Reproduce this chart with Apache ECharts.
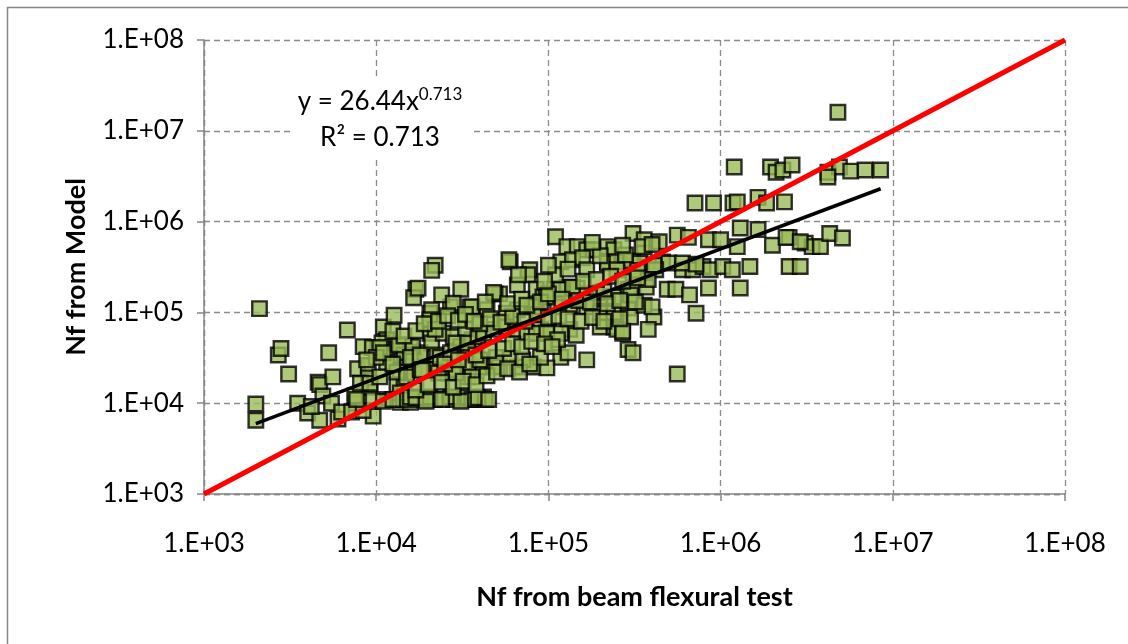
<!DOCTYPE html>
<html><head><meta charset="utf-8">
<script src="https://cdn.jsdelivr.net/npm/echarts@6/dist/echarts.min.js"></script>
<style>html,body{margin:0;padding:0;background:#fff}#c{width:1128px;height:644px}</style>
</head><body><div id="c"></div>
<script>
// Nf from beam flexural test (x) and Nf from Model (y)
const nfBeam = [
  2.1e3,2.7e3,2.8e3,3.1e3,2.0e3,2.0e3,6.8e3,5.3e3,3.5e3,4.0e3,4.7e3,4.6e3,4.7e3,5.6e3,4.9e3,5.5e3,6.0e3,7.6e3,7.5e3,9.6e3,
  8.4e3,9.5e3,7.8e3,9.0e3,9.2e3,9.0e3,1.1e4,1.27e4,1.7e4,1.65e4,4.2e3,6.3e3,7.2e3,8.4e3,8.1e3,9.2e3,
  1.15e4,1.23e4,1.08e4,1.38e4,1.58e4,1.45e4,1.66e4,1.38e4,1.5e4,1.66e4,1.15e4,1.32e4,1.45e4,1.2e4,1.38e4,1.58e4,1.8e4,1.38e4,
  1.05e4,1.35e4,1.63e4,1.8e4,2.05e4,2.1e4,2.45e4,2.25e4,2.8e4,3.1e4,3.4e4,3.6e4,3.3e4,2.7e4,2.05e4,3.5e4,
  7.7e3,9.6e3,1.44e4,2.2e4,2.8e4,3.5e4,1.05e4,1.32e4,1.5e4,1.8e4,2.2e4,2.6e4,2.9e4,3.4e4,3.9e4,
  2.2e4,2.1e4,1.75e4,2.4e4,3.1e4,2.8e4,3.6e4,4.4e4,5.2e4,4.9e4,2.1e4,2.05e4,2.2e4,1.63e4,1.58e4,1.8e4,2.35e4,2.7e4,2.9e4,3.4e4,
  3.9e4,4.2e4,4.8e4,3.4e4,4.2e4,3.6e4,2.9e4,2.3e4,1.85e4,1.58e4,2.05e4,2.7e4,3.4e4,4.2e4,3.6e4,4.3e4,
  6.0e4,7.8e4,7.6e4,6.6e4,6.7e4,8.5e4,8.2e4,6.6e4,5.7e4,9.3e4,1.1e5,1.28e5,1.47e5,1.67e5,1.82e5,2.2e5,2.4e5,1.18e5,1.38e5,1.58e5,
  1.67e5,2.2e5,1.08e5,1.28e5,1.47e5,1.67e5,2.0e5,2.4e5,1.13e5,1.33e5,1.67e5,2.0e5,2.4e5,2.0e5,2.4e5,1.33e5,1.18e5,1.67e5,5.6e5,5.9e4,
  4.8e4,8.4e4,9.7e4,1.18e5,1.38e5,1.9e5,2.9e5,9.0e4,9.7e4,1.45e5,2.5e5,2.7e5,1.18e5,1.3e5,2.9e5,4.8e4,5.2e4,6.6e4,8.2e4,9.8e4,
  4.0e4,5.0e4,6.0e4,7.1e4,9.0e4,5.7e4,6.6e4,7.5e4,8.5e4,9.8e4,1.13e5,
  3.1e5,3.6e5,4.4e5,5.6e5,6.5e5,8.5e5,1.0e6,1.3e6,1.65e6,1.25e6,2.0e6,2.5e6,3.6e5,3.1e5,2.7e5,4.6e5,5.0e5,6.0e5,6.9e5,7.9e5,
  8.7e5,1.03e6,1.17e6,1.48e6,2.5e6,2.9e6,3.7e5,3.1e5,4.2e5,3.1e5,3.7e5,4.9e5,5.5e5,6.6e5,8.5e5,1.3e6,7.2e5,2.9e5,3.0e5,4.1e5,
  3.8e5,2.7e5,3.1e5,1.2e6,1.95e6,2.1e6,2.3e6,2.6e6,7.1e5,9.1e5,1.18e6,1.25e6,1.65e6,1.85e6,2.35e6,2.2e5,2.5e5,3.0e5,3.4e5,4.1e5,
  6.0e5,7.2e5,2.5e5,3.3e5,3.8e5,2.1e5,3.0e5,3.6e5,4.0e5,4.8e6,4.2e6,4.9e6,5.7e6,6.9e6,8.5e6,4.2e6,2.4e6,3.1e6,3.4e6,3.8e6,
  4.3e6,5.1e6,2.9e6,
  1.1e4,1.25e4,1.7e4,1.95e4,2.4e4,3.1e4,3.9e4,4.5e4,
  1.7e4,2.0e4,2.4e4,2.8e4,3.2e4,3.8e4,4.4e4,5.0e4,5.8e4,6.8e4,7.8e4,
  2.5e4,3.0e4,3.8e4,4.5e4,5.5e4,6.2e4,7.0e4,8.0e4,9.5e4,1.05e5,4.0e4,4.6e4,5.3e4,6.2e4,7.3e4,8.6e4,1.0e5,1.15e5,1.3e5,1.55e5,
  1.8e5,2.1e5,2.6e5,
  4.3e4,5.8e4,7.0e4,7.5e4,9.0e4,1.0e5,1.2e5,1.5e5,1.75e5,2.2e5,2.6e5,3.2e5,1.6e5,1.9e5,2.3e5,2.7e5,3.3e5,1.1e5,9.5e4,1.3e5,
  1.0e5,2.0e5,2.8e5,3.5e5,4.0e5,1.8e5,2.7e5,
  1.25e4,1.45e4,1.7e4,1.9e4,2.3e4,2.6e4,3.0e4,3.3e4,3.7e4,
  1.0e4,1.1e4,8.8e3,1.25e4
];
const nfModel = [
  1.1e5,3.4e4,4.0e4,2.1e4,9.8e3,6.5e3,6.4e4,3.6e4,1.0e4,7.8e3,6.5e3,1.7e4,1.6e4,1.95e4,1.2e4,1.0e4,6.7e3,1.0e4,1.2e4,7.2e3,
  4.2e4,4.1e4,2.4e4,2.6e4,1.5e4,1.9e4,6.9e4,9.3e4,1.8e5,1.45e5,9.2e3,8.0e3,8.0e3,8.3e3,1.66e4,1.66e4,
  5.0e4,3.9e4,4.6e4,4.2e4,4.2e4,3.4e4,3.2e4,2.3e4,2.5e4,2.1e4,2.8e4,1.6e4,1.5e4,1.1e4,1.02e4,1.02e4,1.1e4,1.3e4,
  4.1e4,4.4e4,3.1e4,3.6e4,5.9e4,4.6e4,5.9e4,3.4e4,5.4e4,4.2e4,3.6e4,5.0e4,6.5e4,1.15e5,9.8e4,1.15e5,
  1.1e4,1.1e4,1.1e4,1.1e4,1.1e4,1.1e4,1.95e4,2.2e4,1.95e4,2.35e4,2.35e4,2.15e4,2.35e4,1.95e4,2.5e4,
  3.3e5,2.9e5,1.85e5,1.56e5,1.8e5,1.26e5,1.15e5,1.07e5,1.6e5,1.6e5,1.07e5,8.3e4,6.5e4,4.2e4,3.2e4,3.4e4,3.2e4,3.6e4,4.6e4,4.6e4,
  5.4e4,5.9e4,6.5e4,2.75e4,2.5e4,1.95e4,2.15e4,2.15e4,2.3e4,1.17e4,1.17e4,1.17e4,1.17e4,1.17e4,1.1e4,1.1e4,
  3.6e5,2.95e5,2.6e5,2.0e5,2.6e5,1.8e5,1.15e5,1.07e5,9.8e4,1.48e5,6.8e5,5.3e5,5.3e5,4.9e5,4.9e5,5.3e5,4.9e5,3.6e5,3.8e5,4.0e5,
  2.95e5,3.6e5,1.8e5,1.9e5,1.85e5,1.6e5,1.48e5,1.48e5,1.15e5,1.15e5,1.15e5,9.8e4,9.8e4,6.9e4,6.9e4,6.5e4,5.9e4,3.0e4,2.1e4,3.8e5,
  1.66e5,1.15e5,1.48e5,1.8e5,1.9e5,1.66e5,1.8e5,6.5e4,5.9e4,5.6e4,6.5e4,5.9e4,3.2e4,3.6e4,3.9e4,2.6e4,2.5e4,2.5e4,2.5e4,2.45e4,
  3.0e4,3.2e4,3.2e4,3.0e4,3.2e4,6.9e4,6.5e4,5.9e4,5.9e4,5.9e4,5.0e4,
  7.4e5,6.3e5,6.0e5,7.1e5,6.7e5,6.3e5,6.3e5,8.5e5,8.2e5,5.3e5,5.5e5,6.7e5,4.5e5,3.6e5,3.2e5,3.6e5,3.5e5,2.95e5,2.95e5,3.2e5,
  2.95e5,3.2e5,2.95e5,3.2e5,3.2e5,3.2e5,2.9e5,2.7e5,2.95e5,1.8e5,1.9e5,1.8e5,1.8e5,1.56e5,1.86e5,1.86e5,9.8e4,1.12e5,8.9e4,8.9e4,
  6.5e4,6.2e4,3.6e4,4.0e6,4.0e6,3.5e6,3.7e6,4.2e6,1.6e6,1.6e6,1.6e6,1.65e6,1.85e6,1.6e6,1.65e6,3.5e5,3.6e5,3.7e5,3.5e5,3.3e5,
  3.5e5,3.4e5,2.95e5,2.9e5,2.3e5,1.7e5,1.55e5,1.2e5,1.15e5,1.6e7,3.5e6,4.0e6,3.6e6,3.7e6,3.7e6,3.1e6,6.7e5,5.8e5,5.3e5,5.3e5,
  7.4e5,6.6e5,6.0e5,
  1.05e4,1.1e4,1.15e4,1.05e4,1.1e4,1.05e4,1.15e4,1.1e4,
  1.4e4,1.6e4,1.7e4,1.5e4,1.75e4,1.6e4,2.0e4,2.2e4,2.4e4,2.2e4,2.7e4,
  2.7e4,3.0e4,3.4e4,3.8e4,4.0e4,4.5e4,4.2e4,4.8e4,4.5e4,4.2e4,7.5e4,8.5e4,7.8e4,9.0e4,8.0e4,9.5e4,8.8e4,9.0e4,8.5e4,8.0e4,
  8.8e4,8.0e4,8.5e4,
  1.3e5,1.25e5,1.4e5,1.2e5,1.3e5,1.6e5,1.4e5,1.35e5,1.3e5,1.25e5,1.35e5,1.3e5,2.2e5,2.3e5,2.5e5,2.2e5,2.4e5,2.6e5,2.2e5,3.0e5,
  3.3e5,4.2e5,4.3e5,5.3e5,5.6e5,5.9e5,5.5e5,
  6.2e4,5.5e4,6.3e4,7.5e4,8.0e4,9.2e4,8.2e4,9.5e4,8.0e4,
  3.2e4,3.6e4,3.0e4,2.7e4
];
const tickLabels = ['1.E+03','1.E+04','1.E+05','1.E+06','1.E+07','1.E+08'];
const equalityX = [1e3, 1e8];
const equalityY = [1e3, 1e8];
const trendX = [2.0e3, 8.5e6];
const trendY = [5.97e3, 2.3e6];
const eqLine1 = 'y = 26.44x';
const eqExp = '0.713';
const eqLine2 = 'R² = 0.713';

const points = nfBeam.map((x, i) => [x, nfModel[i]]);
const FONT = 'Lato';
const labelOf = v => tickLabels[Math.round(Math.log10(v)) - 3] || '';

const chart = echarts.init(document.getElementById('c'), null, {renderer: 'canvas'});
chart.setOption({
  backgroundColor: '#ffffff',
  animation: false,
  textStyle: {fontFamily: FONT},
  grid: {left: 204, right: 63, top: 40, bottom: 150, containLabel: false},
  xAxis: {
    type: 'log', logBase: 10, min: 1e3, max: 1e8,
    name: 'Nf from beam flexural test', nameLocation: 'middle', nameGap: 90,
    nameTextStyle: {fontFamily: FONT, fontSize: 27, fontWeight: 'bold', color: '#000'},
    axisLine: {lineStyle: {color: '#868686', width: 1.5}},
    axisTick: {show: true, length: 7, lineStyle: {color: '#868686', width: 1.5}},
    axisLabel: {formatter: labelOf, fontFamily: FONT, fontSize: 26, color: '#000', margin: 37},
    splitLine: {show: true, lineStyle: {color: '#8c8c8c', type: [6, 4], width: 1.3}},
    minorTick: {show: false}
  },
  yAxis: {
    type: 'log', logBase: 10, min: 1e3, max: 1e8,
    name: 'Nf from Model', nameLocation: 'middle', nameGap: 114,
    nameTextStyle: {fontFamily: FONT, fontSize: 27, fontWeight: 'bold', color: '#000'},
    axisLine: {show: true, lineStyle: {color: '#868686', width: 1.5}},
    axisTick: {show: true, length: 7, lineStyle: {color: '#868686', width: 1.5}},
    axisLabel: {formatter: labelOf, fontFamily: FONT, fontSize: 26, color: '#000', margin: 20},
    splitLine: {show: true, lineStyle: {color: '#8c8c8c', type: [6, 4], width: 1.3}}
  },
  series: [
    {
      type: 'scatter', name: 'data', data: points,
      symbol: 'rect', symbolSize: 14.5,
      itemStyle: {color: '#9BBB59', borderColor: '#000', borderWidth: 2.4},
      z: 2
    },
    {
      type: 'line', name: 'equality', data: equalityX.map((x, i) => [x, equalityY[i]]),
      symbol: 'none', lineStyle: {color: '#FF0000', width: 5}, z: 3
    },
    {
      type: 'line', name: 'trend', data: trendX.map((x, i) => [x, trendY[i]]),
      symbol: 'none', lineStyle: {color: '#000', width: 3.5}, z: 4
    }
  ],
  graphic: [
    {type: 'rect', shape: {x: 7.5, y: 7.5, width: 1300, height: 800},
     style: {fill: 'none', stroke: '#868686', lineWidth: 1.5}, silent: true, z: 10},
    {type: 'rect', shape: {x: 290, y: 78, width: 180, height: 78}, style: {fill: '#fff'}, z: 5},
    {type: 'text', x: 380, y: 102, z: 6,
     style: {text: '{a|' + eqLine1 + '}{s|' + eqExp + '}', align: 'center', verticalAlign: 'middle',
       rich: {a: {fontFamily: FONT, fontSize: 26, fill: '#000'},
              s: {fontFamily: FONT, fontSize: 17, fill: '#000', verticalAlign: 'top', padding: [0, 0, 14, 0]}}}},
    {type: 'text', x: 380, y: 138, z: 6,
     style: {text: eqLine2, align: 'center', verticalAlign: 'middle', fontFamily: FONT, fontSize: 26, fill: '#000'}}
  ]
});
</script>
</body></html>
